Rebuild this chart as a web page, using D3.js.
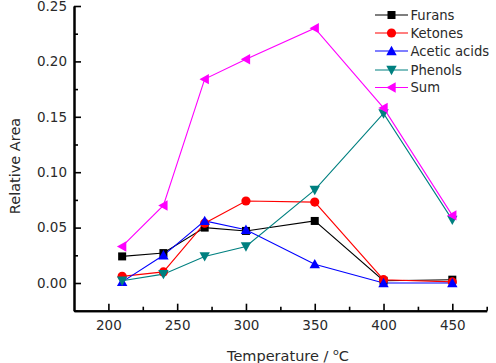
<!DOCTYPE html>
<html><head><meta charset="utf-8">
<script src="https://cdn.jsdelivr.net/npm/d3@7"></script>
<style>body{margin:0;background:#fff}svg{display:block}</style>
</head><body>
<svg id="c" width="496" height="363"></svg>
<script>
const temps = [210, 240, 270, 300, 350, 400, 450];
const furans = [0.024, 0.027, 0.050, 0.047, 0.056, 0.002, 0.003];
const ketones = [0.006, 0.010, 0.054, 0.074, 0.073, 0.003, 0.001];
const aceticAcids = [0.001, 0.025, 0.056, 0.048, 0.017, 0.000, 0.000];
const phenols = [0.002, 0.008, 0.024, 0.033, 0.084, 0.153, 0.057];
const sum = [0.033, 0.070, 0.184, 0.202, 0.230, 0.158, 0.061];
const seriesNames = ["Furans", "Ketones", "Acetic acids", "Phenols", "Sum"];
const xTicks = [200, 250, 300, 350, 400, 450];
const yTicks = [0.00, 0.05, 0.10, 0.15, 0.20, 0.25];

const series = [
  {name: seriesNames[0], values: furans, color: "#000000", shape: "square"},
  {name: seriesNames[1], values: ketones, color: "#ff0000", shape: "circle"},
  {name: seriesNames[2], values: aceticAcids, color: "#0000ff", shape: "up"},
  {name: seriesNames[3], values: phenols, color: "#008080", shape: "down"},
  {name: seriesNames[4], values: sum, color: "#ff00ff", shape: "left"}
];

const svg = d3.select("#c");
const x = d3.scaleLinear().domain([175, 475]).range([74, 486.7]);
const y = d3.scaleLinear().domain([-0.025, 0.25]).range([310.7, 6]);
const font = "DejaVu Sans, Verdana, sans-serif";
const textColor = "#2a2a2a";

function marker(g, shape, cx, cy, color) {
  if (shape === "square") {
    g.append("rect").attr("x", cx - 4).attr("y", cy - 4).attr("width", 8).attr("height", 8).attr("fill", color);
  } else if (shape === "circle") {
    g.append("circle").attr("cx", cx).attr("cy", cy).attr("r", 4.6).attr("fill", color);
  } else {
    const s = 5.2;
    let pts;
    if (shape === "up") pts = [[cx, cy - s], [cx + s, cy + s * 0.8], [cx - s, cy + s * 0.8]];
    else if (shape === "down") pts = [[cx, cy + s], [cx + s, cy - s * 0.8], [cx - s, cy - s * 0.8]];
    else pts = [[cx - s, cy], [cx + s * 0.8, cy - s], [cx + s * 0.8, cy + s]];
    g.append("polygon").attr("points", pts.map(p => p.join(",")).join(" ")).attr("fill", color);
  }
}

// lines
const line = d3.line().x((d, i) => x(temps[i])).y(d => y(d));
series.forEach(s => {
  svg.append("path").attr("d", line(s.values)).attr("fill", "none")
    .attr("stroke", s.color).attr("stroke-width", 1.1);
});
series.forEach(s => {
  const g = svg.append("g");
  s.values.forEach((v, i) => marker(g, s.shape, x(temps[i]), y(v), s.color));
});

// axes
const xAxis = svg.append("g").attr("transform", `translate(0,${y.range()[0]})`)
  .call(d3.axisBottom(x).tickValues(xTicks).tickFormat(d3.format("d")).tickSizeInner(-7).tickSizeOuter(0).tickPadding(10));
const xMinor = svg.append("g").attr("transform", `translate(0,${y.range()[0]})`)
  .call(d3.axisBottom(x).tickValues([225, 275, 325, 375, 425, 475]).tickFormat("").tickSizeInner(-4).tickSizeOuter(0));
const yAxis = svg.append("g").attr("transform", `translate(${x.range()[0]},0)`)
  .call(d3.axisLeft(y).tickValues(yTicks).tickFormat(d3.format(".2f")).tickSizeInner(-7).tickSizeOuter(0).tickPadding(7));
const yMinor = svg.append("g").attr("transform", `translate(${x.range()[0]},0)`)
  .call(d3.axisLeft(y).tickValues([-0.025, 0.025, 0.075, 0.125, 0.175, 0.225]).tickFormat("").tickSizeInner(-4).tickSizeOuter(0));
[xAxis, xMinor, yAxis, yMinor].forEach(a => {
  a.select(".domain").attr("stroke", "#000").attr("stroke-width", 2);
  a.selectAll(".tick line").attr("stroke", "#000").attr("stroke-width", 1.6);
  a.selectAll("text").attr("font-family", font).attr("font-size", 13.5).attr("fill", textColor);
});

// axis titles
svg.append("text").attr("transform", "translate(20,166) rotate(-90)").attr("text-anchor", "middle")
  .attr("font-family", font).attr("font-size", 14.5).attr("fill", textColor).text("Relative Area");
const xt = svg.append("text").attr("x", 288).attr("y", 361).attr("text-anchor", "middle")
  .attr("font-family", font).attr("font-size", 14.5).attr("fill", textColor);
xt.append("tspan").text("Temperature / ");
xt.append("tspan").attr("dy", -6).attr("font-size", 9.5).text("o");
xt.append("tspan").attr("dy", 6).text("C");

// legend
const legendY = [15, 33, 51, 70, 87.5];
series.forEach((s, i) => {
  const g = svg.append("g");
  g.append("line").attr("x1", 375).attr("x2", 408).attr("y1", legendY[i]).attr("y2", legendY[i])
    .attr("stroke", s.color).attr("stroke-width", 1.1);
  marker(g, s.shape, 391.5, legendY[i], s.color);
  g.append("text").attr("x", 410.5).attr("y", legendY[i] + 4.8).attr("font-family", font)
    .attr("font-size", 13.2).attr("fill", textColor).text(s.name);
});
</script>
</body></html>
